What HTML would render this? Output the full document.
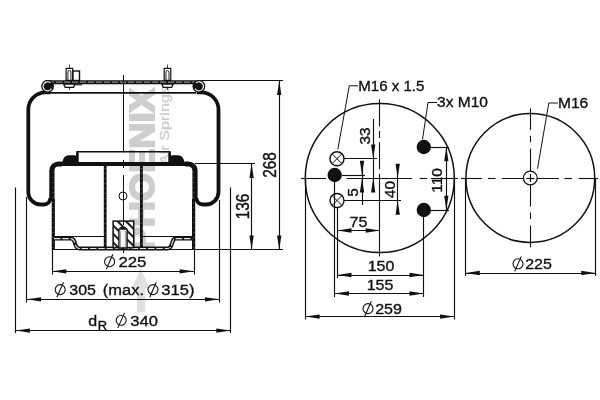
<!DOCTYPE html>
<html><head><meta charset="utf-8"><style>
html,body{margin:0;padding:0;background:#fff;width:600px;height:400px;overflow:hidden}
svg{display:block;filter:grayscale(100%)}
text{font-family:"Liberation Sans",sans-serif}
</style></head><body>
<svg width="600" height="400" viewBox="0 0 600 400">
<rect width="600" height="400" fill="#fff"/>
<text x="0" y="0" transform="translate(153.8,251.3) rotate(-90)" font-size="34.5" text-anchor="start" fill="#cecece" font-weight="bold" stroke="#cecece" stroke-width="2" textLength="163" lengthAdjust="spacingAndGlyphs">PHOENIX</text>
<text x="0" y="0" transform="translate(168.8,165) rotate(-90)" font-size="13.5" text-anchor="start" fill="#cecece" font-weight="normal" stroke="#cecece" stroke-width="0.4" textLength="79" lengthAdjust="spacingAndGlyphs">Air Springs</text>
<polygon points="140.8,268.5 149.5,288.5 145.3,288.5 145.3,312 137,312 137,288.5 131.8,288.5" fill="#e0e0e0"/>
<path d="M50,92.4 H45.5 A17.2,17.2 0 0 0 28.3,109.8 V192 A12.5,12.5 0 0 0 40.8,204.5 H44 Q49.5,204.5 50.5,198" fill="none" stroke="#111" stroke-width="3.8"/>
<path d="M196.8,92.4 H201.3 A17.2,17.2 0 0 1 218.5,109.8 V192 A12.5,12.5 0 0 1 206,204.5 H202.8 Q197.3,204.5 196.3,198" fill="none" stroke="#111" stroke-width="3.8"/>
<path d="M51.9,201 V170.5 A6.5,6.5 0 0 1 58.4,164 H62" fill="none" stroke="#111" stroke-width="5.2"/>
<path d="M195,201 V170.5 A6.5,6.5 0 0 0 188.5,164 H185" fill="none" stroke="#111" stroke-width="5.2"/>
<line x1="58" y1="163.9" x2="189" y2="163.9" stroke="#111" stroke-width="4.0" />
<line x1="53.3" y1="199" x2="53.3" y2="250" stroke="#111" stroke-width="3.2" />
<line x1="193.6" y1="199" x2="193.6" y2="250" stroke="#111" stroke-width="3.2" />
<path d="M46,80.3 H201 V84.3 H46 A2,2 0 0 1 46,80.3 Z" fill="#111"/>
<line x1="48" y1="82.1" x2="199" y2="82.1" stroke="#8a8a8a" stroke-width="1.3" stroke-dasharray="6.3 1.7"/>
<line x1="201" y1="80.5" x2="283" y2="80.5" stroke="#111" stroke-width="1" />
<circle cx="47.6" cy="86.3" r="6.4" fill="#111"/>
<path d="M50.50,82.90 A4.5,4.5 0 1 0 51.50,88.50" fill="none" stroke="#fff" stroke-width="1.1"/>
<circle cx="198.9" cy="86.3" r="6.4" fill="#111"/>
<path d="M196.00,82.90 A4.5,4.5 0 1 1 195.00,88.50" fill="none" stroke="#fff" stroke-width="1.1"/>
<line x1="50" y1="92.8" x2="196" y2="92.8" stroke="#111" stroke-width="1.8" />
<rect x="66.10000000000001" y="68.4" width="6.6" height="12" fill="#fff" stroke="#111" stroke-width="1.2"/>
<path d="M67.9,80 V72 A1.5,1.5 0 0 1 70.9,72 V80" fill="none" stroke="#111" stroke-width="0.9"/>
<line x1="69.5" y1="64.5" x2="69.5" y2="68" stroke="#111" stroke-width="0.8" />
<path d="M63.60000000000001,84 L65.2,87.3 H73.60000000000001 L75.2,84 Z" fill="#fff" stroke="#111" stroke-width="1.3"/>
<line x1="69.5" y1="87.5" x2="69.5" y2="90" stroke="#111" stroke-width="0.8" />
<rect x="164.2" y="68.4" width="6.6" height="12" fill="#fff" stroke="#111" stroke-width="1.2"/>
<path d="M166.0,80 V72 A1.5,1.5 0 0 1 169.0,72 V80" fill="none" stroke="#111" stroke-width="0.9"/>
<line x1="167.5" y1="64.5" x2="167.5" y2="68" stroke="#111" stroke-width="0.8" />
<path d="M161.7,84 L163.3,87.3 H171.7 L173.3,84 Z" fill="#fff" stroke="#111" stroke-width="1.3"/>
<line x1="167.5" y1="87.5" x2="167.5" y2="90" stroke="#111" stroke-width="0.8" />
<rect x="73" y="71" width="6.5" height="9.5" fill="#fff" stroke="#111" stroke-width="1.4"/>
<rect x="75" y="83.6" width="6.5" height="1.2" fill="#fff" stroke="#111" stroke-width="1"/>
<path d="M77.2,163 V151.8 H169.8 V163" fill="none" stroke="#111" stroke-width="1.6"/>
<line x1="77.4" y1="152.5" x2="77.4" y2="163" stroke="#111" stroke-width="2.6" />
<line x1="169.6" y1="152.5" x2="169.6" y2="163" stroke="#111" stroke-width="2.6" />
<path d="M62,163.5 C63,158 65,155.2 69,155.2 H74 Q77,155.2 77.5,158 V164 Z" fill="#111"/>
<path d="M184.8,163.5 C183.8,158 181.8,155.2 177.8,155.2 H172.8 Q169.8,155.2 169.3,158 V164 Z" fill="#111"/>
<line x1="53.0" y1="172" x2="53.0" y2="249" stroke="#bbb" stroke-width="0.6" stroke-dasharray="0.8 4.2"/>
<line x1="193.8" y1="172" x2="193.8" y2="249" stroke="#bbb" stroke-width="0.6" stroke-dasharray="0.8 4.2"/>
<line x1="105.2" y1="166" x2="105.2" y2="247.5" stroke="#111" stroke-width="2.8" />
<line x1="105.2" y1="168" x2="105.2" y2="246" stroke="#bbb" stroke-width="0.6" stroke-dasharray="0.8 4.2"/>
<line x1="141.4" y1="166" x2="141.4" y2="247.5" stroke="#111" stroke-width="2.8" />
<line x1="141.4" y1="168" x2="141.4" y2="246" stroke="#bbb" stroke-width="0.6" stroke-dasharray="0.8 4.2"/>
<line x1="55" y1="236.5" x2="104" y2="236.5" stroke="#111" stroke-width="1.1" />
<line x1="142" y1="236.5" x2="192.5" y2="236.5" stroke="#111" stroke-width="1.1" />
<path d="M54,238.6 H71 C73.5,238.6 74,240 75,243.5 C76,247 77,248.5 79.5,248.5 H167.5 C170,248.5 171,247 172,243.5 C173,240 173.5,238.6 176,238.6 H192.5" fill="none" stroke="#111" stroke-width="4.0"/>
<path d="M54,238.6 H71 C73.5,238.6 74,240 75,243.5 C76,247 77,248.5 79.5,248.5 H167.5 C170,248.5 171,247 172,243.5 C173,240 173.5,238.6 176,238.6 H192.5" fill="none" stroke="#e8e8e8" stroke-width="1.1" stroke-dasharray="6.5 1.8"/>
<line x1="52" y1="249.5" x2="283" y2="249.5" stroke="#111" stroke-width="1.1" />
<defs><pattern id="h" patternUnits="userSpaceOnUse" width="6" height="6" patternTransform="translate(113,221) rotate(-45)"><rect x="-1" y="-1" width="8" height="8" fill="#fff"/><line x1="3" y1="-1" x2="3" y2="7" stroke="#111" stroke-width="1.9"/></pattern></defs>
<rect x="113.1" y="221.1" width="20.6" height="26.5" fill="url(#h)" stroke="#111" stroke-width="1.5"/>
<path d="M118.9,248 V229.5 Q123,224.5 127.1,229.5 V248 Z" fill="#fff" stroke="#111" stroke-width="1.4"/>
<path d="M119.5,229.8 Q123,225.2 126.5,229.8 Z" fill="#111"/>
<line x1="120.6" y1="231" x2="120.6" y2="247" stroke="#555" stroke-width="0.6" />
<line x1="125.4" y1="231" x2="125.4" y2="247" stroke="#555" stroke-width="0.6" />
<line x1="123.5" y1="75" x2="123.5" y2="152.3" stroke="#111" stroke-width="1" />
<line x1="123.5" y1="160" x2="123.5" y2="168" stroke="#111" stroke-width="1" />
<line x1="123.5" y1="175" x2="123.5" y2="225" stroke="#111" stroke-width="1" />
<line x1="123.5" y1="247" x2="123.5" y2="253" stroke="#111" stroke-width="1" />
<circle cx="123" cy="196" r="4" fill="none" stroke="#111" stroke-width="1"/>
<line x1="52.5" y1="249.8" x2="52.5" y2="274.5" stroke="#111" stroke-width="1.15" />
<line x1="194.5" y1="249.8" x2="194.5" y2="274.5" stroke="#111" stroke-width="1.15" />
<line x1="26.5" y1="197" x2="26.5" y2="302.5" stroke="#111" stroke-width="1.15" />
<line x1="219.5" y1="200" x2="219.5" y2="302.5" stroke="#111" stroke-width="1.15" />
<line x1="15.5" y1="187.5" x2="15.5" y2="333" stroke="#111" stroke-width="1.15" />
<line x1="230.5" y1="187.5" x2="230.5" y2="333" stroke="#111" stroke-width="1.15" />
<line x1="52" y1="271.5" x2="194" y2="271.5" stroke="#111" stroke-width="1.15" />
<polygon points="52.00,271.30 66.30,269.15 66.30,273.45" fill="#111"/>
<polygon points="194.00,271.30 179.70,269.15 179.70,273.45" fill="#111"/>
<line x1="26.8" y1="299.5" x2="219.3" y2="299.5" stroke="#111" stroke-width="1.15" />
<polygon points="26.80,299.30 41.10,297.15 41.10,301.45" fill="#111"/>
<polygon points="219.30,299.30 205.00,297.15 205.00,301.45" fill="#111"/>
<line x1="15.6" y1="330.5" x2="230.6" y2="330.5" stroke="#111" stroke-width="1.15" />
<polygon points="15.60,330.60 29.90,328.45 29.90,332.75" fill="#111"/>
<polygon points="230.60,330.60 216.30,328.45 216.30,332.75" fill="#111"/>
<circle cx="109.6" cy="261.7" r="5.0" fill="none" stroke="#111" stroke-width="1.1"/>
<line x1="106.3" y1="269.3" x2="112.89999999999999" y2="254.29999999999998" stroke="#111" stroke-width="1.1"/>
<text x="0" y="0" transform="translate(118.4,267.3) scale(1.09,1.0)" font-size="15.4" text-anchor="start" fill="#111" font-weight="normal" stroke="#111" stroke-width="0.35">225</text>
<circle cx="60.2" cy="289.6" r="5.0" fill="none" stroke="#111" stroke-width="1.1"/>
<line x1="56.900000000000006" y1="297.20000000000005" x2="63.5" y2="282.20000000000005" stroke="#111" stroke-width="1.1"/>
<text x="0" y="0" transform="translate(69.3,295.4) scale(1.04,1.0)" font-size="15.4" text-anchor="start" fill="#111" font-weight="normal" stroke="#111" stroke-width="0.35">305</text>
<text x="0" y="0" transform="translate(102.8,295.4) scale(1.07,1.0)" font-size="15.4" text-anchor="start" fill="#111" font-weight="normal" stroke="#111" stroke-width="0.35">(max.</text>
<circle cx="153" cy="289.6" r="5.0" fill="none" stroke="#111" stroke-width="1.1"/>
<line x1="149.7" y1="297.20000000000005" x2="156.3" y2="282.20000000000005" stroke="#111" stroke-width="1.1"/>
<text x="0" y="0" transform="translate(161.3,295.4) scale(1.08,1.0)" font-size="15.4" text-anchor="start" fill="#111" font-weight="normal" stroke="#111" stroke-width="0.35">315)</text>
<text x="0" y="0" transform="translate(88.2,326) scale(1.04,1.0)" font-size="15.4" text-anchor="start" fill="#111" font-weight="normal" stroke="#111" stroke-width="0.35">d</text>
<text x="0" y="0" transform="translate(97.8,330.3) scale(1.04,1.0)" font-size="12.5" text-anchor="start" fill="#111" font-weight="normal" stroke="#111" stroke-width="0.35">R</text>
<circle cx="121.2" cy="320.3" r="5.0" fill="none" stroke="#111" stroke-width="1.1"/>
<line x1="117.9" y1="327.90000000000003" x2="124.5" y2="312.90000000000003" stroke="#111" stroke-width="1.1"/>
<text x="0" y="0" transform="translate(130.2,326) scale(1.08,1.0)" font-size="15.4" text-anchor="start" fill="#111" font-weight="normal" stroke="#111" stroke-width="0.35">340</text>
<line x1="195" y1="163.5" x2="255" y2="163.5" stroke="#111" stroke-width="1.15" />
<line x1="279.5" y1="80.7" x2="279.5" y2="249.8" stroke="#111" stroke-width="1.15" />
<polygon points="279.20,80.70 277.05,95.00 281.35,95.00" fill="#111"/>
<polygon points="279.20,249.80 277.05,235.50 281.35,235.50" fill="#111"/>
<line x1="251.5" y1="163.6" x2="251.5" y2="249.8" stroke="#111" stroke-width="1.15" />
<polygon points="251.60,163.60 249.45,177.90 253.75,177.90" fill="#111"/>
<polygon points="251.60,249.80 249.45,235.50 253.75,235.50" fill="#111"/>
<text x="0" y="0" transform="translate(275.9,165) rotate(-90) scale(1.0,1.17)" font-size="15.4" text-anchor="middle" fill="#111" font-weight="normal" stroke="#111" stroke-width="0.35">268</text>
<text x="0" y="0" transform="translate(249.1,206.5) rotate(-90) scale(1.0,1.17)" font-size="15.4" text-anchor="middle" fill="#111" font-weight="normal" stroke="#111" stroke-width="0.35">136</text>
<circle cx="379.8" cy="178.1" r="74.5" fill="none" stroke="#111" stroke-width="1.5"/>
<line x1="379.5" y1="99.3" x2="379.5" y2="126.5" stroke="#111" stroke-width="1.1" />
<line x1="379.5" y1="131" x2="379.5" y2="138" stroke="#111" stroke-width="1.1" />
<line x1="379.5" y1="142.3" x2="379.5" y2="169.3" stroke="#111" stroke-width="1.1" />
<line x1="379.5" y1="173.8" x2="379.5" y2="256.5" stroke="#111" stroke-width="1.1" />
<line x1="301" y1="178.5" x2="326" y2="178.5" stroke="#111" stroke-width="1.1" />
<line x1="333" y1="178.5" x2="340" y2="178.5" stroke="#111" stroke-width="1.1" />
<line x1="346.7" y1="178.5" x2="412" y2="178.5" stroke="#111" stroke-width="1.1" />
<line x1="419.7" y1="178.5" x2="427" y2="178.5" stroke="#111" stroke-width="1.1" />
<line x1="431" y1="178.5" x2="458" y2="178.5" stroke="#111" stroke-width="1.1" />
<circle cx="337" cy="158.7" r="7" fill="#fff" stroke="#111" stroke-width="1.4"/>
<line x1="332.2" y1="153.89999999999998" x2="341.8" y2="163.5" stroke="#111" stroke-width="1" />
<line x1="332.2" y1="163.5" x2="341.8" y2="153.89999999999998" stroke="#111" stroke-width="1" />
<circle cx="337" cy="200.5" r="7" fill="#fff" stroke="#111" stroke-width="1.4"/>
<line x1="332.2" y1="195.7" x2="341.8" y2="205.3" stroke="#111" stroke-width="1" />
<line x1="332.2" y1="205.3" x2="341.8" y2="195.7" stroke="#111" stroke-width="1" />
<circle cx="334.7" cy="175" r="7.2" fill="#111"/>
<circle cx="423.8" cy="147" r="7.2" fill="#111"/>
<circle cx="423.8" cy="210" r="7.2" fill="#111"/>
<path d="M358,85.8 H349.3 L337.8,149.5" fill="none" stroke="#111" stroke-width="1"/>
<path d="M437,102.5 H428 L422.5,139.5" fill="none" stroke="#111" stroke-width="1"/>
<text x="0" y="0" transform="translate(358.2,90.6) scale(0.98,1.0)" font-size="15.4" text-anchor="start" fill="#111" font-weight="normal" stroke="#111" stroke-width="0.35">M16 x 1.5</text>
<text x="0" y="0" transform="translate(437,107.3) scale(1.01,1.0)" font-size="15.4" text-anchor="start" fill="#111" font-weight="normal" stroke="#111" stroke-width="0.35">3x M10</text>
<line x1="344" y1="158.5" x2="377" y2="158.5" stroke="#111" stroke-width="1.15" />
<line x1="342" y1="175.5" x2="365" y2="175.5" stroke="#111" stroke-width="1.15" />
<line x1="344" y1="200.5" x2="401" y2="200.5" stroke="#111" stroke-width="1.15" />
<line x1="430" y1="147.5" x2="449" y2="147.5" stroke="#111" stroke-width="1.15" />
<line x1="430" y1="210.5" x2="449" y2="210.5" stroke="#111" stroke-width="1.15" />
<line x1="373.5" y1="119" x2="373.5" y2="192" stroke="#111" stroke-width="1.15" />
<polygon points="373.20,158.70 371.05,144.40 375.35,144.40" fill="#111"/>
<polygon points="373.20,178.10 371.05,192.40 375.35,192.40" fill="#111"/>
<text x="0" y="0" transform="translate(369.5,136) rotate(-90)" font-size="15.4" text-anchor="middle" fill="#111" font-weight="normal" stroke="#111" stroke-width="0.35">33</text>
<line x1="362.5" y1="162" x2="362.5" y2="205" stroke="#111" stroke-width="1.15" />
<polygon points="362.00,175.00 359.85,160.70 364.15,160.70" fill="#111"/>
<polygon points="362.00,178.10 359.85,192.40 364.15,192.40" fill="#111"/>
<text x="0" y="0" transform="translate(357.9,192.5) rotate(-90)" font-size="15.4" text-anchor="middle" fill="#111" font-weight="normal" stroke="#111" stroke-width="0.35">5</text>
<line x1="397.5" y1="165" x2="397.5" y2="214" stroke="#111" stroke-width="1.15" />
<polygon points="397.70,178.10 395.55,163.80 399.85,163.80" fill="#111"/>
<polygon points="397.70,200.50 395.55,214.80 399.85,214.80" fill="#111"/>
<text x="0" y="0" transform="translate(394.5,189.5) rotate(-90)" font-size="15.4" text-anchor="middle" fill="#111" font-weight="normal" stroke="#111" stroke-width="0.35">40</text>
<line x1="446.5" y1="147" x2="446.5" y2="210" stroke="#111" stroke-width="1.15" />
<polygon points="446.30,147.00 444.15,161.30 448.45,161.30" fill="#111"/>
<polygon points="446.30,210.00 444.15,195.70 448.45,195.70" fill="#111"/>
<text x="0" y="0" transform="translate(442.3,180.5) rotate(-90)" font-size="15.4" text-anchor="middle" fill="#111" font-weight="normal" stroke="#111" stroke-width="0.35">110</text>
<line x1="334.5" y1="182" x2="334.5" y2="297" stroke="#111" stroke-width="1.15" />
<line x1="337.5" y1="207" x2="337.5" y2="278" stroke="#111" stroke-width="1.15" />
<line x1="423.5" y1="217" x2="423.5" y2="297" stroke="#111" stroke-width="1.15" />
<line x1="305.5" y1="178.1" x2="305.5" y2="319.5" stroke="#111" stroke-width="1.15" />
<line x1="454.5" y1="178.1" x2="454.5" y2="319.5" stroke="#111" stroke-width="1.15" />
<line x1="337.2" y1="230.5" x2="380" y2="230.5" stroke="#111" stroke-width="1.15" />
<polygon points="337.20,230.50 351.50,228.35 351.50,232.65" fill="#111"/>
<polygon points="380.00,230.50 365.70,228.35 365.70,232.65" fill="#111"/>
<text x="0" y="0" transform="translate(358.5,227.3) scale(1.04,1.0)" font-size="15.4" text-anchor="middle" fill="#111" font-weight="normal" stroke="#111" stroke-width="0.35">75</text>
<line x1="337.2" y1="275.5" x2="423.8" y2="275.5" stroke="#111" stroke-width="1.15" />
<polygon points="337.20,275.00 351.50,272.85 351.50,277.15" fill="#111"/>
<polygon points="423.80,275.00 409.50,272.85 409.50,277.15" fill="#111"/>
<text x="0" y="0" transform="translate(381,271.1) scale(1.04,1.0)" font-size="15.4" text-anchor="middle" fill="#111" font-weight="normal" stroke="#111" stroke-width="0.35">150</text>
<line x1="334.7" y1="293.5" x2="423.8" y2="293.5" stroke="#111" stroke-width="1.15" />
<polygon points="334.70,293.50 349.00,291.35 349.00,295.65" fill="#111"/>
<polygon points="423.80,293.50 409.50,291.35 409.50,295.65" fill="#111"/>
<text x="0" y="0" transform="translate(380,289.6) scale(1.04,1.0)" font-size="15.4" text-anchor="middle" fill="#111" font-weight="normal" stroke="#111" stroke-width="0.35">155</text>
<line x1="305.3" y1="316.5" x2="454.3" y2="316.5" stroke="#111" stroke-width="1.15" />
<polygon points="305.30,316.60 319.60,314.45 319.60,318.75" fill="#111"/>
<polygon points="454.30,316.60 440.00,314.45 440.00,318.75" fill="#111"/>
<circle cx="368" cy="308.6" r="5.0" fill="none" stroke="#111" stroke-width="1.1"/>
<line x1="364.7" y1="316.20000000000005" x2="371.3" y2="301.20000000000005" stroke="#111" stroke-width="1.1"/>
<text x="0" y="0" transform="translate(375.2,313.8) scale(1.04,1.0)" font-size="15.4" text-anchor="start" fill="#111" font-weight="normal" stroke="#111" stroke-width="0.35">259</text>
<circle cx="530.3" cy="178" r="64.4" fill="none" stroke="#111" stroke-width="1.5"/>
<line x1="530.5" y1="108.4" x2="530.5" y2="130" stroke="#111" stroke-width="1.1" />
<line x1="530.5" y1="135.8" x2="530.5" y2="142.2" stroke="#111" stroke-width="1.1" />
<line x1="530.5" y1="148.6" x2="530.5" y2="206.5" stroke="#111" stroke-width="1.1" />
<line x1="530.5" y1="212.5" x2="530.5" y2="219" stroke="#111" stroke-width="1.1" />
<line x1="530.5" y1="225.6" x2="530.5" y2="247.3" stroke="#111" stroke-width="1.1" />
<line x1="461" y1="178.5" x2="482" y2="178.5" stroke="#111" stroke-width="1.1" />
<line x1="488" y1="178.5" x2="495.5" y2="178.5" stroke="#111" stroke-width="1.1" />
<line x1="502" y1="178.5" x2="559" y2="178.5" stroke="#111" stroke-width="1.1" />
<line x1="564.5" y1="178.5" x2="572" y2="178.5" stroke="#111" stroke-width="1.1" />
<line x1="578.5" y1="178.5" x2="598" y2="178.5" stroke="#111" stroke-width="1.1" />
<circle cx="530.3" cy="178" r="6.9" fill="#fff" stroke="#111" stroke-width="1.3"/>
<line x1="526.3" y1="178.5" x2="534.3" y2="178.5" stroke="#111" stroke-width="1.15" />
<line x1="530.5" y1="174" x2="530.5" y2="182" stroke="#111" stroke-width="1.15" />
<path d="M558,103 H548.8 L537.5,168.7" fill="none" stroke="#111" stroke-width="1"/>
<text x="0" y="0" transform="translate(558,108.2) scale(1.01,1.0)" font-size="15.4" text-anchor="start" fill="#111" font-weight="normal" stroke="#111" stroke-width="0.35">M16</text>
<line x1="465.5" y1="178.1" x2="465.5" y2="276" stroke="#111" stroke-width="1.15" />
<line x1="595.5" y1="178.1" x2="595.5" y2="276" stroke="#111" stroke-width="1.15" />
<line x1="465.5" y1="273.5" x2="595.5" y2="273.5" stroke="#111" stroke-width="1.15" />
<polygon points="465.50,273.00 479.80,270.85 479.80,275.15" fill="#111"/>
<polygon points="595.50,273.00 581.20,270.85 581.20,275.15" fill="#111"/>
<circle cx="518" cy="263.8" r="5.0" fill="none" stroke="#111" stroke-width="1.1"/>
<line x1="514.7" y1="271.40000000000003" x2="521.3" y2="256.40000000000003" stroke="#111" stroke-width="1.1"/>
<text x="0" y="0" transform="translate(525.2,269.1) scale(1.04,1.0)" font-size="15.4" text-anchor="start" fill="#111" font-weight="normal" stroke="#111" stroke-width="0.35">225</text>
</svg></body></html>
